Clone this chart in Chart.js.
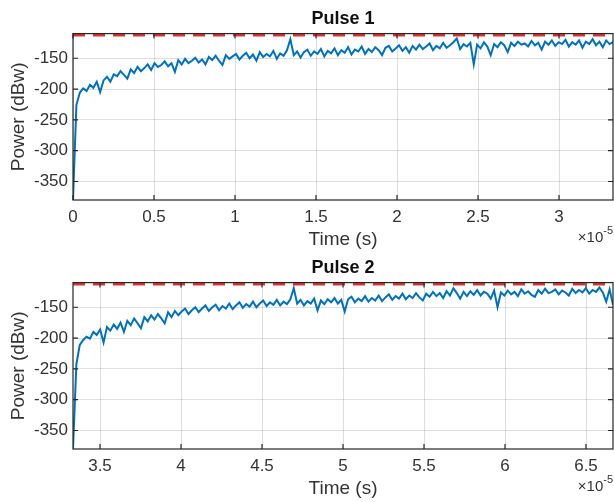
<!DOCTYPE html>
<html>
<head>
<meta charset="utf-8">
<script src="https://cdn.jsdelivr.net/npm/chart.js@4/dist/chart.umd.min.js"></script>
<style>
  html, body { margin: 0; padding: 0; background: #fff; }
  canvas { position: absolute; left: 0; }
  #pulse1 { top: 0; }
  #pulse2 { top: 249px; }
</style>
</head>
<body>
<canvas id="pulse1" width="614" height="251"></canvas>
<canvas id="pulse2" width="614" height="251"></canvas>
<script>
// time is in units of 1e-5 s (shown as x10^-5 on the axis)
var pulseLength = 3.3333;
var pulse1Start = 0;
var pulse2Start = 3.3333;

var pulse1Ticks = [0, 0.5, 1, 1.5, 2, 2.5, 3];
var pulse2Ticks = [3.5, 4, 4.5, 5, 5.5, 6, 6.5];
var powerTicks = [-350, -300, -250, -200, -150];
var powerMin = -380;
var powerMax = -110;
var threshold = -112.5;

var pulse1Power = [
  -380, -226, -206, -199, -203, -193, -198, -188, -205, -186,
  -180, -188, -176, -179, -171, -177, -183, -168, -174, -164,
  -171, -166, -160, -169, -158, -164, -161, -155, -163, -158,
  -172, -153, -160, -151, -158, -154, -149, -157, -152, -160,
  -148, -153, -146, -154, -161, -145, -151, -147, -143, -152,
  -146, -141, -150, -144, -154, -140, -148, -143, -147, -138,
  -151, -142, -146, -137, -119, -145, -139, -149, -140, -136,
  -146, -139, -143, -135, -147, -138, -142, -134, -145, -137,
  -141, -132, -144, -136, -139, -131, -143, -135, -140, -132,
  -137, -145, -133, -130, -139, -134, -129, -138, -132, -141,
  -130, -136, -128, -135, -131, -126, -137, -130, -134, -125,
  -133, -129, -124, -118, -135, -127, -131, -125, -160, -128,
  -134, -124, -131, -145, -127, -132, -124, -129, -140, -125,
  -130, -123, -128, -126, -131, -122, -129, -125, -136, -123,
  -128, -121, -130, -124, -127, -120, -131, -124, -128, -121,
  -133, -123, -127, -119, -129, -123, -132, -121, -127, -124
];

var pulse2Power = [
  -380, -242, -211, -203, -198, -201, -190, -195, -186, -207,
  -182, -188, -178, -185, -175, -190, -172, -179, -168, -176,
  -184, -166, -173, -163, -170, -161, -168, -176, -158, -166,
  -156, -163, -157, -152, -161, -155, -150, -158, -152, -147,
  -156, -150, -146, -155, -148, -152, -144, -153, -147, -142,
  -151, -145, -149, -141, -150, -144, -139, -148, -142, -146,
  -138, -147, -141, -145, -137, -119, -144, -138, -147, -140,
  -144, -136, -155, -139, -145, -137, -142, -135, -144, -138,
  -157, -137, -133, -142, -136, -140, -132, -141, -135, -139,
  -131, -140, -134, -129, -138, -132, -136, -128, -137, -131,
  -135, -127, -134, -139, -128, -133, -125, -132, -127, -135,
  -124, -131, -119, -127, -136, -125, -132, -124, -130, -122,
  -131, -125, -128, -136, -123, -150, -126, -131, -123, -129,
  -125, -132, -121, -128, -124, -130, -133, -122, -128, -120,
  -127, -125, -121, -129, -123, -126, -131, -120, -127, -122,
  -126, -119, -128, -122, -125, -118, -126, -141, -121, -146
];

var textColor = '#333333';
var fontFamily = '"Liberation Sans", Arial, sans-serif';

// box around the axes with inward tick marks and the x10^-5 exponent
var framePlugin = {
  id: 'frame',
  afterDatasetsDraw(chart) {
    var a = chart.chartArea;
    var ctx = chart.ctx;
    var xs = chart.scales.x;
    var ys = chart.scales.y;
    ctx.save();
    ctx.strokeStyle = '#262626';
    ctx.lineWidth = 1.2;
    ctx.strokeRect(a.left, a.top, a.right - a.left, a.bottom - a.top);
    ctx.beginPath();
    xs.ticks.forEach(function (t) {
      var px = xs.getPixelForValue(t.value);
      ctx.moveTo(px, a.bottom); ctx.lineTo(px, a.bottom - 5);
      ctx.moveTo(px, a.top); ctx.lineTo(px, a.top + 5);
    });
    ys.ticks.forEach(function (t) {
      var py = ys.getPixelForValue(t.value);
      ctx.moveTo(a.left, py); ctx.lineTo(a.left + 5, py);
      ctx.moveTo(a.right, py); ctx.lineTo(a.right - 5, py);
    });
    ctx.stroke();

    ctx.fillStyle = textColor;
    ctx.textAlign = 'right';
    ctx.textBaseline = 'middle';
    ctx.font = '11px ' + fontFamily;
    var supW = ctx.measureText('-5').width;
    ctx.fillText('-5', 613, 231);
    ctx.font = '15px ' + fontFamily;
    ctx.fillText('\u00d710', 613 - supW, 238);
    ctx.restore();
  }
};

class PulsePlot {

  chart;

  constructor(id, title, start, power, ticks) {
    this.id = id;
    this.title = title;
    this.start = start;
    this.power = power;
    this.ticks = ticks;
  }

  draw() {
    var start = this.start;
    var step = pulseLength / (this.power.length - 1);
    var points = this.power.map(function (v, i) {
      return { x: start + i * step, y: v };
    });
    var end = start + pulseLength;
    var xTicks = this.ticks;

    var data = {
      datasets: [{
        label: 'Power',
        data: points,
        borderColor: '#0072BD',
        borderWidth: 2,
        pointRadius: 0,
        tension: 0,
        order: 2
      }, {
        label: 'Threshold',
        data: [{ x: start, y: threshold }, { x: end, y: threshold }],
        borderColor: '#e03131',
        borderWidth: 2.5,
        borderDash: [12, 8],
        pointRadius: 0,
        order: 1
      }]
    };

    var config = {
      type: 'line',
      data: data,
      options: {
        responsive: false,
        animation: false,
        devicePixelRatio: 1,
        layout: { padding: { left: 0, right: 1, top: 0, bottom: 0 } },
        plugins: {
          legend: { display: false },
          tooltip: { enabled: false },
          title: {
            display: true,
            text: this.title,
            fullSize: false,
            color: '#111111',
            font: { family: fontFamily, size: 18, weight: 'bold' },
            padding: { top: 8, bottom: 4 }
          }
        },
        scales: {
          x: {
            type: 'linear',
            min: start,
            max: end,
            afterFit: function (s) { s.height = 51; },
            afterBuildTicks: function (s) {
              s.ticks = xTicks.map(function (v) { return { value: v }; });
            },
            grid: { color: 'rgba(0,0,0,0.13)', drawTicks: false },
            border: { display: false },
            ticks: {
              color: textColor,
              padding: 7,
              maxRotation: 0,
              font: { family: fontFamily, size: 17 },
              callback: function (v) { return String(v); }
            },
            title: {
              display: true,
              text: 'Time (s)',
              color: textColor,
              font: { family: fontFamily, size: 19 },
              padding: { top: 0, bottom: 0 }
            }
          },
          y: {
            min: powerMin,
            max: powerMax,
            afterFit: function (s) { s.width = 73; },
            afterBuildTicks: function (s) {
              s.ticks = powerTicks.map(function (v) { return { value: v }; });
            },
            grid: { color: 'rgba(0,0,0,0.13)', drawTicks: false },
            border: { display: false },
            ticks: {
              color: textColor,
              padding: 5,
              font: { family: fontFamily, size: 17 }
            },
            title: {
              display: true,
              text: 'Power (dBw)',
              color: textColor,
              font: { family: fontFamily, size: 19 },
              padding: { top: 7, bottom: 0 }
            }
          }
        }
      },
      plugins: [framePlugin]
    };

    this.chart = new Chart(document.getElementById(this.id), config);
  }

}

new PulsePlot('pulse1', 'Pulse 1', pulse1Start, pulse1Power, pulse1Ticks).draw();
new PulsePlot('pulse2', 'Pulse 2', pulse2Start, pulse2Power, pulse2Ticks).draw();
</script>
</body>
</html>
